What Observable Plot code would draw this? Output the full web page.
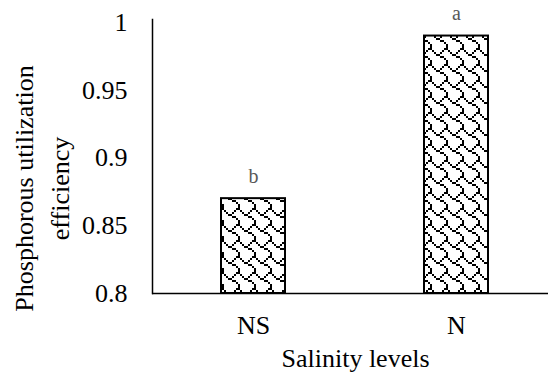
<!DOCTYPE html>
<html>
<head>
<meta charset="utf-8">
<script src="https://cdn.jsdelivr.net/npm/d3@7"></script>
<script src="https://cdn.jsdelivr.net/npm/@observablehq/plot@0.6"></script>
<style>
  html, body { margin: 0; padding: 0; background: white; }
  svg text { font-family: "Liberation Serif", "Times New Roman", serif; }
</style>
</head>
<body>
<div id="chart"></div>
<script>
const categories = ["NS", "N"];
const values = [0.87, 0.99];
const letters = ["b", "a"];
const yTicks = [0.8, 0.85, 0.9, 0.95, 1];
const yTitle = "Phosphorous utilization\nefficiency";
const xTitle = "Salinity levels";
// 8x8 shingle hatch bitmap (one byte per row)
const shingleRows = [0x03, 0x84, 0x48, 0x30, 0x0c, 0x02, 0x01, 0x01];

const data = categories.map((c, i) => ({cat: c, value: values[i], letter: letters[i]}));
const fmt = d => String(d);
const serif = "Liberation Serif";

const chart = Plot.plot({
  width: 548,
  height: 376,
  marginLeft: 152,
  marginRight: 0,
  marginTop: 19,
  marginBottom: 83,
  style: {fontFamily: serif, fontSize: "26px", color: "black", background: "white"},
  x: {domain: categories, range: [152, 558], paddingInner: 0.683, paddingOuter: 0.34, label: null},
  y: {domain: [0.8, 1], range: [293, 22], label: null},
  marks: [
    Plot.barY(data, {x: "cat", y1: 0.8, y2: "value", fill: "url(#shingle)", stroke: "black", strokeWidth: 2}),
    Plot.text(data, {x: "cat", y: "value", text: "letter", dy: -22, fill: "#595959", fontSize: 20, fontFamily: serif, lineAnchor: "middle"}),
    Plot.axisY({ticks: yTicks, tickSize: 0, tickPadding: 25, tickFormat: fmt, fontSize: 26, fontFamily: serif, label: null}),
    Plot.axisX({tickSize: 0, tickPadding: 22, fontSize: 26, fontFamily: serif, label: null}),
    Plot.ruleY([0.8], {stroke: "black", strokeWidth: 1.5}),
    Plot.frame({anchor: "left", stroke: "black", strokeWidth: 1.5}),
    Plot.text([yTitle], {frameAnchor: "left", textAnchor: "middle", rotate: -90, dx: -113, dy: 32, lineHeight: 1.38, lineAnchor: "middle", fontSize: 26, fontFamily: serif, fill: "black"}),
    Plot.text([xTitle], {frameAnchor: "bottom", textAnchor: "middle", dx: 5, dy: 65.5, lineAnchor: "middle", fontSize: 26, fontFamily: serif, fill: "black"})
  ]
});

const svg = d3.select(chart);
const pat = svg.insert("defs", ":first-child")
  .append("pattern")
  .attr("id", "shingle")
  .attr("patternUnits", "userSpaceOnUse")
  .attr("width", 16)
  .attr("height", 16);
pat.append("rect").attr("width", 16).attr("height", 16).attr("fill", "white");
shingleRows.forEach((row, r) => {
  for (let c = 0; c < 8; c++) {
    if (row & (0x80 >> c)) {
      pat.append("rect").attr("x", c * 2).attr("y", r * 2).attr("width", 2).attr("height", 2).attr("fill", "black");
    }
  }
});

document.getElementById("chart").appendChild(chart);
</script>
</body>
</html>
